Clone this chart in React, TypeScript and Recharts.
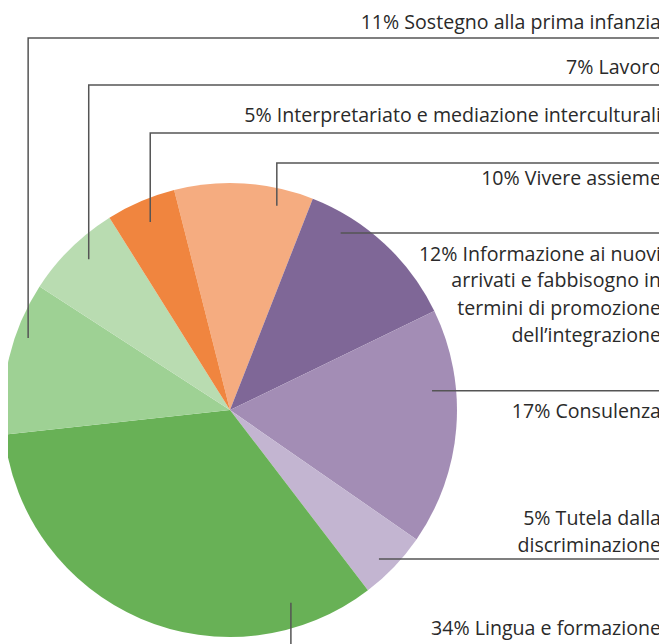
import React from "react";
import { PieChart, Pie, Cell } from "recharts";

const categories = [
  "Vivere assieme",
  "Informazione ai nuovi arrivati e fabbisogno in termini di promozione dell’integrazione",
  "Consulenza",
  "Tutela dalla discriminazione",
  "Lingua e formazione",
  "Sostegno alla prima infanzia",
  "Lavoro",
  "Interpretariato e mediazione interculturali",
];
const values = [10, 12, 17, 5, 34, 11, 7, 5];
const labelLines = [
  ["10% Vivere assieme"],
  ["12% Informazione ai nuovi", "arrivati e fabbisogno in", "termini di promozione", "dell’integrazione"],
  ["17% Consulenza"],
  ["5% Tutela dalla", "discriminazione"],
  ["34% Lingua e formazione"],
  ["11% Sostegno alla prima infanzia"],
  ["7% Lavoro"],
  ["5% Interpretariato e mediazione interculturali"],
];
const colors = ["#f5ac80", "#7f6797", "#a38db5", "#c3b5d1", "#68b156", "#9ed194", "#b9dcb1", "#f0853f"];

// label layout (svg coordinates)
const layout = [
  { kind: "up", lineY: 155, textY: [177], frac: 0.762, rf: 0.923 },
  { kind: "h", textY: [252.7, 279.3, 307, 334], frac: 0.248, rf: 0.92 },
  { kind: "h", textY: [410], frac: 0.337, rf: 0.894 },
  { kind: "h", textY: [517, 543.7], frac: 0.575, rf: 0.928 },
  { kind: "down", textY: [627], frac: 0.164, rf: 0.89 },
  { kind: "up", lineY: 30, textY: [21], frac: 0.659, rf: 0.944 },
  { kind: "up", lineY: 77, textY: [66], frac: 0.556, rf: 0.91 },
  { kind: "up", lineY: 125, textY: [113.7], frac: 0.51, rf: 0.9 },
];

const data = categories.map((name, i) => ({ name, value: values[i] }));

const RIGHT = 654;
const RAD = Math.PI / 180;
const FONT = "'Open Sans', sans-serif";

const renderLabel = (props: any) => {
  const { cx, cy, outerRadius, startAngle, endAngle, index } = props;
  const l = layout[index];
  const a = startAngle + l.frac * (endAngle - startAngle);
  const r = outerRadius * l.rf;
  const ax = cx + r * Math.cos(a * RAD);
  const ay = cy - r * Math.sin(a * RAD);
  let pts = "";
  if (l.kind === "up") pts = `${ax},${ay} ${ax},${l.lineY} ${RIGHT},${l.lineY}`;
  else if (l.kind === "h") pts = `${ax},${ay} ${RIGHT},${ay}`;
  else pts = `${ax},${ay} ${ax},${700}`;
  return (
    <g key={`lbl-${index}`}>
      <polyline points={pts} fill="none" stroke="#555" strokeWidth={1.5} />
      {labelLines[index].map((t, j) => (
        <text
          key={j}
          x={RIGHT - 1}
          y={l.textY[j]}
          textAnchor="end"
          fontFamily={FONT}
          fontSize={19.6}
          fill="#2a2a2a"
        >
          {t}
        </text>
      ))}
    </g>
  );
};

export default function App() {
  return (
    <>
      <style>{"html,body{overflow:hidden}"}</style>
      <PieChart width={659} height={636} margin={{ top: 0, right: 0, bottom: 0, left: 0 }}>
        <Pie
          data={data}
          dataKey="value"
          nameKey="name"
          cx={222}
          cy={402}
          outerRadius={227}
          startAngle={104.25}
          endAngle={-255.75}
          stroke="none"
          label={renderLabel}
          labelLine={false}
          isAnimationActive={false}
        >
          {data.map((d, i) => (
            <Cell key={d.name} fill={colors[i]} />
          ))}
        </Pie>
      </PieChart>
    </>
  );
}
